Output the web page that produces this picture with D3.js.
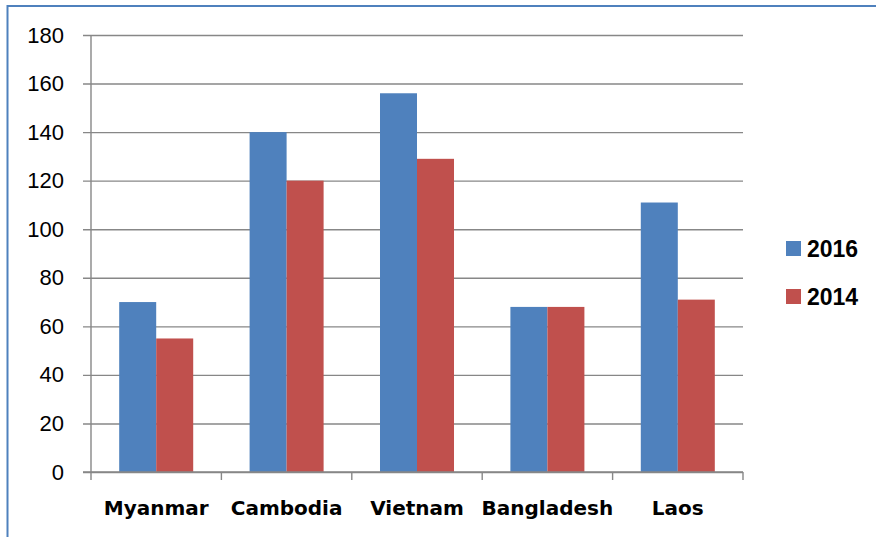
<!DOCTYPE html>
<html>
<head>
<meta charset="utf-8">
<script src="https://cdn.jsdelivr.net/npm/d3@7"></script>
<style>
  html, body { margin: 0; padding: 0; background: #fff; }
  svg { display: block; }
</style>
</head>
<body>
<div id="chart"></div>
<script>
// chart values
const categories = ['Myanmar', 'Cambodia', 'Vietnam', 'Bangladesh', 'Laos'];
const seriesNames = ['2016', '2014'];
const values2016 = [70, 140, 156, 68, 111];
const values2014 = [55, 120, 129, 68, 71];
const yTicks = [0, 20, 40, 60, 80, 100, 120, 140, 160, 180];
const colors = ['#4f81bd', '#c0504d'];

const W = 876, H = 537;
const plot = { left: 91, right: 743, top: 35, bottom: 472 };

const svg = d3.select('#chart').append('svg')
  .attr('width', W).attr('height', H);

// frame (only top and left edges show in the crop)
svg.append('line')
  .attr('x1', 7).attr('x2', W).attr('y1', 6).attr('y2', 6)
  .attr('stroke', '#4f81bd').attr('stroke-width', 2);
svg.append('line')
  .attr('x1', 7.5).attr('x2', 7.5).attr('y1', 5).attr('y2', H)
  .attr('stroke', '#4f81bd').attr('stroke-width', 2);

const x0 = d3.scaleBand().domain(categories).range([plot.left, plot.right]);
const x1 = d3.scaleBand().domain(seriesNames).range([0, x0.bandwidth()])
  .paddingInner(0).paddingOuter(0.762);
const y = d3.scaleLinear().domain([0, 180]).range([plot.bottom, plot.top]);

// gridlines + y tick labels: axis hung from the right edge
const tickLen = 8;
const gridAxis = d3.axisLeft(y).tickValues(yTicks)
  .tickSize(plot.right - plot.left + tickLen).tickPadding(19);
const gy = svg.append('g')
  .attr('transform', `translate(${plot.right},0)`)
  .call(gridAxis);
gy.select('.domain').remove();
gy.selectAll('.tick line').attr('stroke', '#878787').attr('stroke-width', 1.4);
gy.selectAll('.tick text')
  .attr('fill', '#000')
  .style('font-family', "'Liberation Sans', Arial, sans-serif")
  .style('font-size', '22px');

// bars
const rows = categories.map((c, i) => ({ cat: c, vals: [values2016[i], values2014[i]] }));
const groups = svg.append('g').selectAll('g')
  .data(rows).enter().append('g')
  .attr('transform', d => `translate(${x0(d.cat)},0)`);
groups.selectAll('rect')
  .data(d => d.vals.map((v, j) => ({ key: seriesNames[j], v, j })))
  .enter().append('rect')
  .attr('x', d => x1(d.key))
  .attr('width', x1.bandwidth())
  .attr('y', d => y(d.v))
  .attr('height', d => y(0) - y(d.v))
  .attr('fill', d => colors[d.j]);

// axes lines
svg.append('line')
  .attr('x1', plot.left).attr('x2', plot.left)
  .attr('y1', plot.top).attr('y2', plot.bottom)
  .attr('stroke', '#878787').attr('stroke-width', 1.4);
svg.append('line')
  .attr('x1', plot.left - tickLen).attr('x2', plot.right)
  .attr('y1', plot.bottom).attr('y2', plot.bottom)
  .attr('stroke', '#878787').attr('stroke-width', 1.4);

// category boundary ticks
const bounds = categories.map(c => x0(c)).concat([plot.right]);
svg.append('g').selectAll('line')
  .data(bounds).enter().append('line')
  .attr('x1', d => d).attr('x2', d => d)
  .attr('y1', plot.bottom).attr('y2', plot.bottom + tickLen)
  .attr('stroke', '#878787').attr('stroke-width', 1.4);

// category labels
svg.append('g').selectAll('text')
  .data(categories).enter().append('text')
  .attr('x', d => x0(d) + x0.bandwidth() / 2)
  .attr('y', 515)
  .attr('text-anchor', 'middle')
  .style('font-family', "'DejaVu Sans', sans-serif")
  .style('font-weight', 'bold')
  .style('font-size', '20px')
  .text(d => d);

// legend
const legend = svg.append('g').selectAll('g')
  .data(seriesNames).enter().append('g')
  .attr('transform', (d, i) => `translate(786,${241 + i * 48})`);
legend.append('rect')
  .attr('width', 15).attr('height', 15)
  .attr('fill', (d, i) => colors[i]);
legend.append('text')
  .attr('x', 21).attr('y', 15.5)
  .style('font-family', "'Liberation Sans', Arial, sans-serif")
  .style('font-weight', 'bold')
  .style('font-size', '23px')
  .text(d => d);
</script>
</body>
</html>
